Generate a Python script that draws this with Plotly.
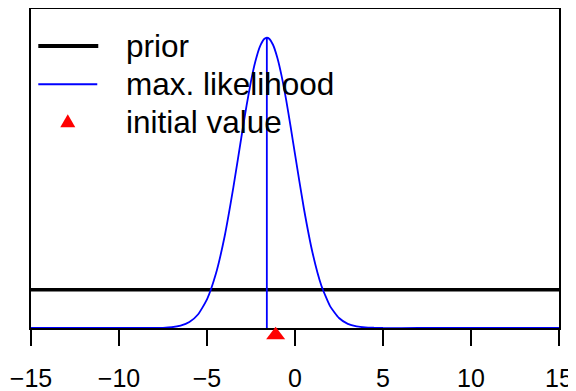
import plotly.graph_objs as go

# ------ DATA ------- #
# likelihood curve
lik_x = [-15, -10, -8, -7.5, -7, -6.5, -6, -5.5, -5, -4.5, -4, -3.5, -3, -2.75, -2.5,
         -2.25, -2, -1.75, -1.6, -1.45, -1.25, -1, -0.75, -0.5, -0.25, 0, 0.5, 1,
         1.5, 2, 2.5, 3, 3.5, 4, 4.5, 5, 7, 15]
lik_y = [0, 0, 0.0001, 0.0002, 0.0007, 0.0021, 0.0052, 0.0120, 0.0249, 0.0469,
         0.0796, 0.1225, 0.1705, 0.1937, 0.2147, 0.2320, 0.2446, 0.2514, 0.2525,
         0.2514, 0.2464, 0.2349, 0.2185, 0.1982, 0.1753, 0.1512, 0.1044, 0.0652,
         0.0368, 0.0188, 0.0087, 0.0036, 0.0014, 0.0005, 0.0002, 0, 0, 0]

# flat prior over the x range
prior_x = [-15, 15]
prior_y = [0.0333, 0.0333]

# max. likelihood estimate (vertical line)
ml_x = [-1.6, -1.6]
ml_y = [0, 0.2525]

# initial value (drawn in a thin strip just under the axis)
init_x = [-1.1]
init_y = [0]

x_ticks = [-15, -10, -5, 0, 5, 10, 15]
legend_labels = ["prior", "max. likelihood", "initial value"]

# ------ LAYOUT HELPERS ------- #
# page body adds an 8px margin, so the figure is drawn 8px smaller/shifted
OFF = 8
W, H = 576, 391
L, R = 30.7, 559          # plot box left/right (page pixels)
PT, PB = 8.75, 350        # plotting area top/bottom incl. strip (page pixels)
BOX_B = 328               # bottom of the box, y = 0


def px(x):
    return (x - L) / (R - L)


def py(y):
    return (PB - y) / (PB - PT)


FONT = "Liberation Sans, Arial, sans-serif"

fig = go.Figure()

fig.add_trace(go.Scatter(x=prior_x, y=prior_y, mode="lines",
                         line=dict(color="black", width=3.5)))
fig.add_trace(go.Scatter(x=lik_x, y=lik_y, mode="lines",
                         line=dict(color="#0000FF", width=1.8, shape="spline", smoothing=0.5)))
fig.add_trace(go.Scatter(x=ml_x, y=ml_y, mode="lines",
                         line=dict(color="#0000FF", width=1.8)))
fig.add_trace(go.Scatter(x=init_x, y=init_y, mode="markers", yaxis="y2",
                         cliponaxis=False,
                         marker=dict(symbol="triangle-up", size=16.5, color="#FF0000",
                                     line=dict(width=0))))

# hand-drawn legend (R style, no box)
shapes = [
    dict(type="line", xref="paper", yref="paper", x0=px(38), x1=px(98),
         y0=py(45.7), y1=py(45.7), line=dict(color="black", width=4)),
    dict(type="line", xref="paper", yref="paper", x0=px(38), x1=px(97),
         y0=py(84), y1=py(84), line=dict(color="#0000FF", width=2)),
    dict(type="path", xref="paper", yref="paper", fillcolor="#FF0000",
         line=dict(width=0),
         path=f"M {px(60)} {py(127)} L {px(75)} {py(127)} L {px(67.5)} {py(114)} Z"),
]
annotations = []
for label, yy in zip(legend_labels, [46, 84, 122]):
    annotations.append(dict(
        text=label, xref="paper", yref="paper", x=px(124), y=py(yy),
        xanchor="left", yanchor="middle", showarrow=False,
        font=dict(family=FONT, size=31.5, color="black"),
    ))

fig.update_layout(
    width=W - OFF, height=H - OFF,
    margin=dict(l=L - OFF, r=W - R, t=PT - OFF, b=H - PB, pad=0, autoexpand=False),
    plot_bgcolor="rgba(0,0,0,0)", paper_bgcolor="white",
    showlegend=False,
    shapes=shapes, annotations=annotations,
    font=dict(family=FONT, color="black"),
    yaxis2=dict(domain=[0, py(320)], range=[-1, 1], visible=False,
                anchor="x", fixedrange=True),
)
fig.update_xaxes(
    range=[-15, 15], tickvals=x_ticks, ticks="outside", ticklen=16,
    tickwidth=1.5, tickcolor="black", showgrid=False, zeroline=False,
    showline=True, linecolor="black", linewidth=1.5, mirror=True,
    tickfont=dict(family=FONT, size=25, color="black"), automargin=False,
    ticklabelstandoff=11,
)
fig.update_layout(yaxis=dict(
    domain=[py(BOX_B), 1], range=[0, 0.2775], showticklabels=False, ticks="",
    showgrid=False, zeroline=False, showline=True, linecolor="black",
    linewidth=1.5, mirror=True, automargin=False,
))

fig.write_html("out.html")
